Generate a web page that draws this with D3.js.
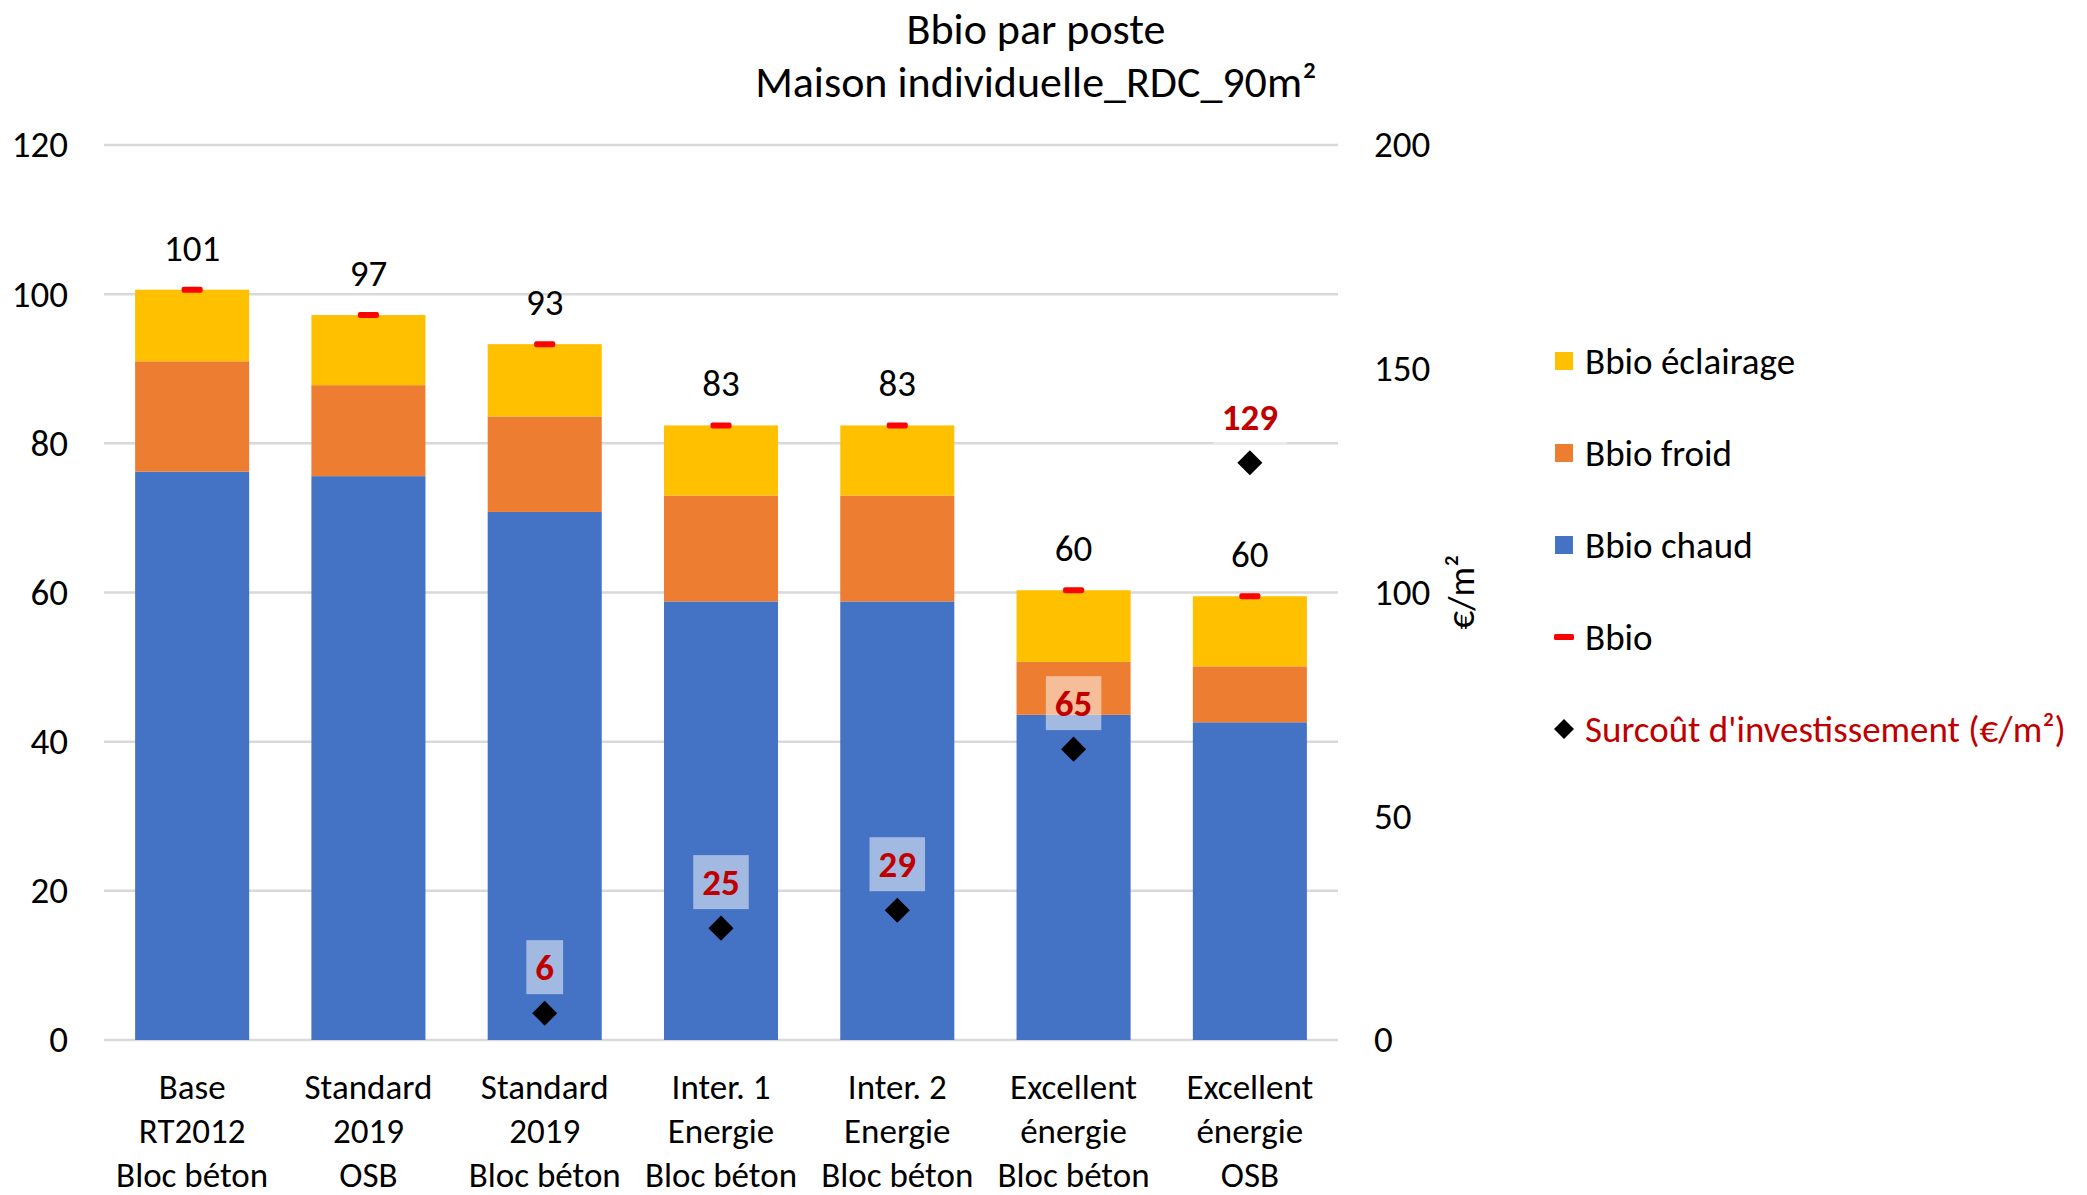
<!DOCTYPE html>
<html>
<head>
<meta charset="utf-8">
<script src="https://cdn.jsdelivr.net/npm/d3@7"></script>
<style>
  html, body { margin: 0; padding: 0; background: #fff; }
  svg { display: block; }
  text { font-family: Calibri, Carlito, Lato, sans-serif; }
</style>
</head>
<body>
<svg id="chart" width="2087" height="1195"></svg>
<script>
// ---- Data ----
const categories = [
  ["Base", "RT2012", "Bloc béton"],
  ["Standard", "2019", "OSB"],
  ["Standard", "2019", "Bloc béton"],
  ["Inter. 1", "Energie", "Bloc béton"],
  ["Inter. 2", "Energie", "Bloc béton"],
  ["Excellent", "énergie", "Bloc béton"],
  ["Excellent", "énergie", "OSB"]
];
const bbioChaud     = [76.2, 75.6, 70.8, 58.8, 58.8, 43.6, 42.6];
const bbioFroid     = [14.8, 12.2, 12.8, 14.2, 14.2, 7.1, 7.5];
const bbioEclairage = [9.6, 9.4, 9.7, 9.4, 9.4, 9.6, 9.4];
const bbio          = [100.6, 97.2, 93.3, 82.4, 82.4, 60.3, 59.5];
const bbioLabels    = ["101", "97", "93", "83", "83", "60", "60"];
const surcout       = [null, null, 6, 25, 29, 65, 129];
const leftTicks  = [0, 20, 40, 60, 80, 100, 120];
const rightTicks = [0, 50, 100, 150, 200];
const seriesNames  = ["Bbio chaud", "Bbio froid", "Bbio éclairage"];
const seriesColors = ["#4472C4", "#ED7D31", "#FFC000"];

// ---- Layout ----
const svg = d3.select("#chart");
const plot = { left: 104, right: 1338, top: 145, bottom: 1040 };
const FONT = 37;
const FAMILY = "Calibri, Carlito, Lato, sans-serif";

const x = d3.scaleBand()
  .domain(d3.range(categories.length))
  .range([plot.left, plot.right])
  .paddingInner(0.353)
  .paddingOuter(0.1765);
const yL = d3.scaleLinear().domain([0, 120]).range([plot.bottom, plot.top]);
const yR = d3.scaleLinear().domain([0, 200]).range([plot.bottom, plot.top]);

// Title
svg.append("text").attr("x", 1036).attr("y", 29).attr("dy", "0.35em").attr("text-anchor", "middle")
  .attr("font-size", 44).attr("fill", "#000").text("Bbio par poste");
svg.append("text").attr("x", 1036).attr("y", 82).attr("dy", "0.35em").attr("text-anchor", "middle")
  .attr("font-size", 44).attr("fill", "#000").text("Maison individuelle_RDC_90m²");

// Gridlines
svg.append("g").selectAll("line").data(leftTicks).join("line")
  .attr("x1", plot.left).attr("x2", plot.right)
  .attr("y1", d => yL(d)).attr("y2", d => yL(d))
  .attr("stroke", "#D9D9D9").attr("stroke-width", 2.5);

// Left axis
const leftAxis = d3.axisLeft(yL).tickValues(leftTicks).tickSize(0).tickPadding(0);
const gL = svg.append("g").attr("transform", `translate(68,0)`).call(leftAxis);
gL.select(".domain").remove();
gL.selectAll("text").attr("font-size", FONT).attr("fill", "#000").style("font-family", FAMILY);

// Right axis
const rightAxis = d3.axisRight(yR).tickValues(rightTicks).tickSize(0).tickPadding(0);
const gR = svg.append("g").attr("transform", `translate(1374,0)`).call(rightAxis);
gR.select(".domain").remove();
gR.selectAll("text").attr("font-size", FONT).attr("fill", "#000").style("font-family", FAMILY);

// Right axis title
svg.append("text")
  .attr("transform", `translate(1474,592) rotate(-90)`)
  .attr("text-anchor", "middle").attr("font-size", FONT).attr("fill", "#000")
  .text("€/m²");

// Stacked bars
const rows = categories.map((c, i) => ({ i, c: bbioChaud[i], f: bbioFroid[i], e: bbioEclairage[i] }));
const stack = d3.stack().keys(["c", "f", "e"])(rows);
svg.append("g").selectAll("g").data(stack).join("g")
  .attr("fill", (d, k) => seriesColors[k])
  .selectAll("rect").data(d => d).join("rect")
  .attr("x", d => x(d.data.i)).attr("width", x.bandwidth())
  .attr("y", d => yL(d[1])).attr("height", d => yL(d[0]) - yL(d[1]));

// Bbio markers (red dash)
svg.append("g").selectAll("rect").data(bbio).join("rect")
  .attr("x", (d, i) => x(i) + x.bandwidth() / 2 - 10.5)
  .attr("y", d => yL(d) - 3)
  .attr("width", 21).attr("height", 6).attr("rx", 2)
  .attr("fill", "#FF0000");

// Bbio labels
svg.append("g").selectAll("text").data(bbio).join("text")
  .attr("x", (d, i) => x(i) + x.bandwidth() / 2)
  .attr("y", d => yL(d) - 42)
  .attr("dy", "0.35em")
  .attr("text-anchor", "middle").attr("font-size", FONT).attr("fill", "#000")
  .text((d, i) => bbioLabels[i]);

// Investment diamonds
const inv = surcout.map((v, i) => ({ v, i })).filter(d => d.v != null);
const diamond = d3.symbol().type(d3.symbolSquare).size(313);
svg.append("g").selectAll("path").data(inv).join("path")
  .attr("d", diamond)
  .attr("transform", d => `translate(${x(d.i) + x.bandwidth() / 2},${yR(d.v)}) rotate(45)`)
  .attr("fill", "#000");

// Investment labels with semi-transparent boxes
const invG = svg.append("g").selectAll("g").data(inv).join("g")
  .attr("transform", d => `translate(${x(d.i) + x.bandwidth() / 2},${yR(d.v) - 46})`);
const invBoxes = invG.append("rect").attr("fill", "#FFFFFF").attr("fill-opacity", 0.5);
const invTexts = invG.append("text")
  .attr("text-anchor", "middle").attr("dy", "0.35em")
  .attr("font-size", FONT).attr("font-weight", "bold").attr("fill", "#C00000")
  .text(d => d.v);
invTexts.each(function (d, k) {
  const w = this.getComputedTextLength();
  d3.select(invBoxes.nodes()[k])
    .attr("x", -w / 2 - 9).attr("y", -27).attr("width", w + 18).attr("height", 54);
});

// Category labels
const CAT_FONT = 35;
const catG = svg.append("g").selectAll("text").data(categories).join("text")
  .attr("text-anchor", "middle").attr("font-size", CAT_FONT).attr("fill", "#000");
catG.each(function (lines, i) {
  const t = d3.select(this);
  lines.forEach((ln, j) => {
    t.append("tspan").attr("x", x(i) + x.bandwidth() / 2)
      .attr("y", 1087 + j * 44).attr("dy", "0.35em").text(ln);
  });
});

// Legend
const legendItems = [
  { name: "Bbio éclairage", type: "square", color: "#FFC000", text: "#000" },
  { name: "Bbio froid", type: "square", color: "#ED7D31", text: "#000" },
  { name: "Bbio chaud", type: "square", color: "#4472C4", text: "#000" },
  { name: "Bbio", type: "dash", color: "#FF0000", text: "#000" },
  { name: "Surcoût d'investissement (€/m²)", type: "diamond", color: "#000", text: "#C00000" }
];
const lg = svg.append("g").selectAll("g").data(legendItems).join("g")
  .attr("transform", (d, i) => `translate(1564,${361 + i * 92})`);
lg.filter(d => d.type === "square").append("rect")
  .attr("x", -9).attr("y", -9).attr("width", 18).attr("height", 18).attr("fill", d => d.color);
lg.filter(d => d.type === "dash").append("rect")
  .attr("x", -10).attr("y", -3).attr("width", 20).attr("height", 6).attr("rx", 1.5).attr("fill", d => d.color);
lg.filter(d => d.type === "diamond").append("path")
  .attr("d", d3.symbol().type(d3.symbolSquare).size(200)).attr("transform", "rotate(45)")
  .attr("fill", d => d.color);
lg.append("text").attr("x", 21).attr("dy", "0.35em")
  .attr("font-size", FONT).attr("fill", d => d.text).text(d => d.name);
</script>
</body>
</html>
